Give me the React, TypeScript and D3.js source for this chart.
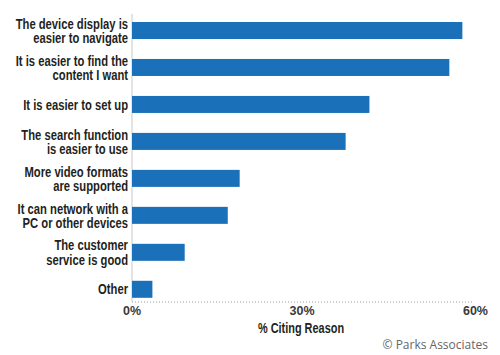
import React from "react";
import * as d3 from "d3";

const categories: string[][] = [
  ["The device display is", "easier to navigate"],
  ["It is easier to find the", "content I want"],
  ["It is easier to set up"],
  ["The search function", "is easier to use"],
  ["More video formats", "are supported"],
  ["It can network with a", "PC or other devices"],
  ["The customer", "service is good"],
  ["Other"],
];
const values: number[] = [58.3, 56, 41.9, 37.7, 19, 16.9, 9.3, 3.6];
const ticks: number[] = [0, 30, 60];
const tickLabels: string[] = ["0%", "30%", "60%"];

const W = 500;
const H = 355;
const x0 = 132;
const x1 = 472;
const yTop = 18.3;
const yBot = 301.5;

export default function App() {
  const x = d3.scaleLinear().domain([0, 60]).range([x0, x1]);
  const y = d3
    .scaleBand<number>()
    .domain(d3.range(categories.length))
    .range([yTop, yBot])
    .paddingInner(0.54)
    .paddingOuter(0.1);
  const labelFont = "'Liberation Sans', Arial, sans-serif";
  const sx = 0.78;
  return (
    <svg
      width={W}
      height={H}
      style={{ position: "absolute", left: 0, top: 0, background: "#fff" }}
    >
      <line x1={x0} x2={x0} y1={14} y2={yBot} stroke="#c8c8c8" strokeWidth={1} />
      {values.map((v, i) => (
        <rect
          key={i}
          x={x(0)}
          y={y(i)!}
          width={x(v) - x(0)}
          height={y.bandwidth()}
          fill="#1a71b9"
        />
      ))}
      <g transform={`translate(128,0) scale(${sx},1)`}>
        {categories.map((lines, i) => {
          const cy = y(i)! + y.bandwidth() / 2;
          const lh = 14;
          const start = cy - ((lines.length - 1) * lh) / 2;
          return (
            <text
              key={i}
              textAnchor="end"
              fontFamily={labelFont}
              fontWeight="bold"
              fontSize={14.4}
              fill="#231f20"
            >
              {lines.map((l, j) => (
                <tspan key={j} x={0} y={start + j * lh} dy="0.36em">
                  {l}
                </tspan>
              ))}
            </text>
          );
        })}
      </g>
      <line
        x1={x0}
        x2={x1 + 1}
        y1={yBot + 0.5}
        y2={yBot + 0.5}
        stroke="#9a9a9a"
        strokeWidth={1}
        strokeDasharray="1,2"
      />
      {ticks.map((t, i) => (
        <text
          key={t}
          x={i === ticks.length - 1 ? x(t) + 16 : x(t)}
          y={315}
          textAnchor={i === ticks.length - 1 ? "end" : "middle"}
          fontFamily={labelFont}
          fontWeight="bold"
          fontSize={12.5}
          fill="#3a3a3a"
        >
          {tickLabels[i]}
        </text>
      ))}
      <g transform={`translate(${x(30) - 1},333) scale(0.78,1)`}>
        <text
          x={0}
          y={0}
          textAnchor="middle"
          fontFamily={labelFont}
          fontWeight="bold"
          fontSize={14}
          fill="#231f20"
        >
          % Citing Reason
        </text>
      </g>
      <text
        x={488}
        y={349}
        textAnchor="end"
        fontFamily="'Open Sans', sans-serif"
        fontSize={12}
        fill="#666"
      >
        © Parks Associates
      </text>
    </svg>
  );
}
